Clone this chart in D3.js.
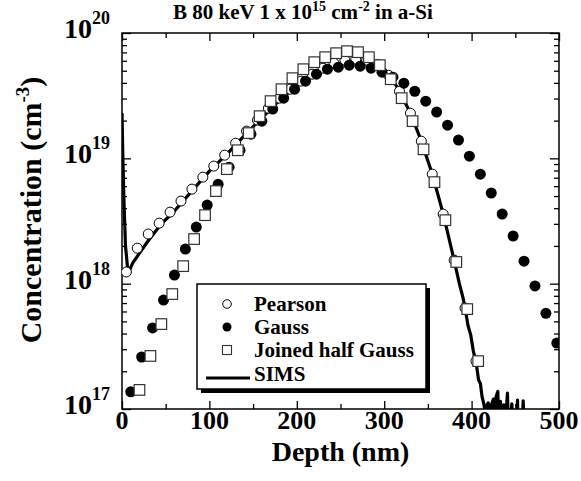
<!DOCTYPE html>
<html>
<head>
<meta charset="utf-8">
<script src="https://cdn.jsdelivr.net/npm/d3@7"></script>
<style>
  html, body { margin: 0; padding: 0; background: #fff; }
  svg text { font-family: "Liberation Serif", "Times New Roman", Times, serif; font-weight: bold; fill: #000; }
</style>
</head>
<body>
<svg id="chart" width="581" height="481"></svg>
<script>
// ---- data ----
const xTicks = [0, 100, 200, 300, 400, 500];
const xMinorTicks = [50, 150, 250, 350, 450];
const yExponents = [17, 18, 19, 20];

const pearsonDepth = [5, 17.5, 30, 42.5, 55, 67.5, 80, 92.5, 105, 117.5, 130, 142.5, 155, 167.5, 180, 192.5, 205, 217.5, 230, 242.5, 255, 267.5, 280, 292.5, 305, 317.5, 330, 342.5, 355, 367.5, 380, 392.5, 405];
const pearsonConc = [1.24e18, 1.92e18, 2.49e18, 3.04e18, 3.72e18, 4.56e18, 5.68e18, 7.08e18, 8.67e18, 1.06e19, 1.32e19, 1.65e19, 2.02e19, 2.51e19, 3.02e19, 3.56e19, 4.13e19, 4.69e19, 5.24e19, 5.74e19, 6.07e19, 6.18e19, 6.07e19, 5.6e19, 4.6e19, 3.43e19, 2.29e19, 1.37e19, 7.48e18, 3.59e18, 1.54e18, 6.39e17, 2.41e17];

const gaussDepth = [10, 22.5, 35, 47.5, 60, 72.5, 85, 97.5, 110, 122.5, 135, 147.5, 160, 172.5, 185, 197.5, 210, 222.5, 235, 247.5, 260, 272.5, 285, 297.5, 310, 322.5, 335, 347.5, 360, 372.5, 385, 397.5, 410, 422.5, 435, 447.5, 460, 472.5, 485, 497.5];
const gaussConc = [1.37e17, 2.6e17, 4.43e17, 7.4e17, 1.17e18, 1.89e18, 2.83e18, 4.24e18, 6.2e18, 8.5e18, 1.16e19, 1.56e19, 1.98e19, 2.47e19, 3.02e19, 3.56e19, 4.13e19, 4.69e19, 5.14e19, 5.34e19, 5.54e19, 5.44e19, 5.24e19, 4.87e19, 4.44e19, 3.98e19, 3.43e19, 2.86e19, 2.34e19, 1.84e19, 1.40e19, 1.04e19, 7.48e18, 5.28e18, 3.59e18, 2.40e18, 1.51e18, 9.6e17, 5.8e17, 3.36e17];

const halfGaussDepth = [20, 32.5, 45, 57.5, 70, 82.5, 95, 107.5, 120, 132.5, 145, 157.5, 170, 182.5, 195, 207.5, 220, 232.5, 245, 257.5, 270, 282.5, 295, 307.5, 320, 332.5, 345, 357.5, 370, 382.5, 395, 407.5];
const halfGaussConc = [1.42e17, 2.65e17, 4.76e17, 8.26e17, 1.38e18, 2.27e18, 3.52e18, 5.48e18, 8.2e18, 1.16e19, 1.59e19, 2.17e19, 2.86e19, 3.56e19, 4.36e19, 5.14e19, 5.85e19, 6.41e19, 6.90e19, 7.16e19, 7.03e19, 6.41e19, 5.54e19, 4.28e19, 3.02e19, 1.98e19, 1.18e19, 6.46e18, 3.21e18, 1.49e18, 6.27e17, 2.41e17];

const simsDepth = [0, 1, 2.5, 4, 7, 12, 20, 30, 45, 60, 80, 100, 120, 140, 160, 180, 200, 220, 240, 255, 270, 285, 300, 310, 317.5, 330, 342.5, 355, 367.5, 380, 386, 390, 392.5, 396, 399, 402, 405, 408, 410, 412, 414, 416, 417, 419, 421, 423, 425, 426, 428, 430, 431, 433, 435, 437, 439, 441, 442, 445, 446, 447, 452, 452.5, 453, 458, 459, 460];
const simsConc = [2.3e19, 1.0e19, 4.0e18, 2.0e18, 1.2e18, 1.45e18, 1.75e18, 2.2e18, 3.0e18, 3.8e18, 5.5e18, 7.9e18, 1.08e19, 1.52e19, 2.1e19, 2.9e19, 3.8e19, 4.7e19, 5.45e19, 5.85e19, 6.0e19, 5.75e19, 5.0e19, 4.2e19, 3.43e19, 2.29e19, 1.37e19, 7.5e18, 3.6e18, 1.54e18, 1.0e18, 7.8e17, 6.4e17, 4.6e17, 3.9e17, 2.9e17, 2.4e17, 1.7e17, 1.6e17, 1.25e17, 1.1e17, 9e16, 1.05e17, 1.12e17, 8e16, 1.1e17, 1.2e17, 8e16, 1.25e17, 1.38e17, 8e16, 1.15e17, 8e16, 1.08e17, 8e16, 1.34e17, 8e16, 8e16, 1.1e17, 8e16, 8e16, 1.18e17, 8e16, 8e16, 1.16e17, 8e16];

const legendLabels = ["Pearson", "Gauss", "Joined half Gauss", "SIMS"];

// ---- layout ----
const svg = d3.select("#chart");
const L = 122, R = 559, T = 33, B = 409;
const x = d3.scaleLinear().domain([0, 500]).range([L, R]);
const y = d3.scaleLog().domain([1e17, 1e20]).range([B, T]);

const zip = (a, b) => a.map((d, i) => [d, b[i]]);

svg.append("defs").append("clipPath").attr("id", "plotclip")
  .append("rect").attr("x", L).attr("y", T).attr("width", R - L).attr("height", B - T);

// ---- axes (ticks inward) ----
const yMinor = [];
yExponents.slice(0, -1).forEach(e => { for (let m = 2; m <= 9; m++) yMinor.push(m * Math.pow(10, e)); });
const yMajor = yExponents.map(e => Math.pow(10, e));

function styleAxis(g) {
  g.select(".domain").remove();
  g.selectAll(".tick line").attr("stroke", "#000").attr("stroke-width", 1.3);
  g.selectAll(".tick text").remove();
}
svg.append("g").attr("transform", `translate(0,${B})`).call(d3.axisBottom(x).tickValues(xTicks).tickSize(-8)).call(styleAxis);
svg.append("g").attr("transform", `translate(0,${B})`).call(d3.axisBottom(x).tickValues(xMinorTicks).tickSize(-5)).call(styleAxis);
svg.append("g").attr("transform", `translate(0,${T})`).call(d3.axisTop(x).tickValues(xTicks).tickSize(-8)).call(styleAxis);
svg.append("g").attr("transform", `translate(0,${T})`).call(d3.axisTop(x).tickValues(xMinorTicks).tickSize(-5)).call(styleAxis);
svg.append("g").attr("transform", `translate(${L},0)`).call(d3.axisLeft(y).tickValues(yMajor).tickSize(-9)).call(styleAxis);
svg.append("g").attr("transform", `translate(${L},0)`).call(d3.axisLeft(y).tickValues(yMinor).tickSize(-5)).call(styleAxis);
svg.append("g").attr("transform", `translate(${R},0)`).call(d3.axisRight(y).tickValues(yMajor).tickSize(-9)).call(styleAxis);
svg.append("g").attr("transform", `translate(${R},0)`).call(d3.axisRight(y).tickValues(yMinor).tickSize(-5)).call(styleAxis);

svg.append("rect").attr("x", L).attr("y", T).attr("width", R - L).attr("height", B - T)
  .attr("fill", "none").attr("stroke", "#000").attr("stroke-width", 1.5);

// x tick labels
svg.append("g").selectAll("text").data(xTicks).join("text")
  .attr("x", d => x(d)).attr("y", 429).attr("text-anchor", "middle")
  .attr("font-size", 26).text(d => d);

// y tick labels 10^n
const yl = svg.append("g").selectAll("text").data(yExponents).join("text")
  .attr("x", 110).attr("y", d => y(Math.pow(10, d)) + 5).attr("text-anchor", "end")
  .attr("font-size", 28);
yl.append("tspan").text("10");
yl.append("tspan").attr("font-size", 18).attr("dy", -14).text(d => d);

// axis titles
svg.append("text").attr("x", (L + R) / 2).attr("y", 461).attr("text-anchor", "middle")
  .attr("font-size", 28).text("Depth (nm)");
const yt = svg.append("text").attr("transform", "translate(41,210) rotate(-90)")
  .attr("text-anchor", "middle").attr("font-size", 30);
yt.append("tspan").text("Concentration (cm");
yt.append("tspan").attr("font-size", 19).attr("dy", -12).text("-3");
yt.append("tspan").attr("dy", 12).text(")");

// title
const tt = svg.append("text").attr("x", 173).attr("y", 19).attr("font-size", 21);
tt.append("tspan").text("B 80 keV 1 x 10");
tt.append("tspan").attr("font-size", 14).attr("dy", -8).text("15");
tt.append("tspan").attr("dy", 8).text(" cm");
tt.append("tspan").attr("font-size", 14).attr("dy", -8).text("-2");
tt.append("tspan").attr("dy", 8).text(" in a-Si");

// ---- data marks ----
const plot = svg.append("g").attr("clip-path", "url(#plotclip)");
plot.append("path").datum(zip(simsDepth, simsConc))
  .attr("fill", "none").attr("stroke", "#000").attr("stroke-width", 3.2).attr("stroke-linejoin", "round")
  .attr("d", d3.line().x(d => x(d[0])).y(d => y(Math.max(d[1], 5e16))));

plot.append("g").selectAll("circle").data(zip(pearsonDepth, pearsonConc)).join("circle")
  .attr("cx", d => x(d[0])).attr("cy", d => y(d[1])).attr("r", 5)
  .attr("fill", "#fff").attr("stroke", "#000").attr("stroke-width", 1);

plot.append("g").selectAll("circle").data(zip(gaussDepth, gaussConc)).join("circle")
  .attr("cx", d => x(d[0])).attr("cy", d => y(d[1])).attr("r", 5.5)
  .attr("fill", "#000");

plot.append("g").selectAll("rect").data(zip(halfGaussDepth, halfGaussConc)).join("rect")
  .attr("x", d => x(d[0]) - 5.3).attr("y", d => y(d[1]) - 5.3).attr("width", 10.6).attr("height", 10.6)
  .attr("fill", "#fff").attr("stroke", "#333").attr("stroke-width", 1.2);

// ---- legend ----
const lg = svg.append("g");
lg.append("rect").attr("x", 201).attr("y", 288).attr("width", 229).attr("height", 105).attr("fill", "#000");
lg.append("rect").attr("x", 197).attr("y", 284).attr("width", 229).attr("height", 105)
  .attr("fill", "#fff").attr("stroke", "#000").attr("stroke-width", 1.5);
const ly = [311, 334, 357, 381];
lg.append("circle").attr("cx", 227).attr("cy", ly[0] - 7).attr("r", 4.3).attr("fill", "#fff").attr("stroke", "#000");
lg.append("circle").attr("cx", 227).attr("cy", ly[1] - 7).attr("r", 4.5).attr("fill", "#000");
lg.append("rect").attr("x", 222.5).attr("y", ly[2] - 11.5).attr("width", 9).attr("height", 9)
  .attr("fill", "#fff").attr("stroke", "#333").attr("stroke-width", 1.1);
lg.append("line").attr("x1", 206).attr("x2", 250).attr("y1", ly[3] - 3).attr("y2", ly[3] - 3)
  .attr("stroke", "#000").attr("stroke-width", 3);
lg.selectAll("text").data(legendLabels).join("text")
  .attr("x", 254).attr("y", (d, i) => ly[i]).attr("font-size", 21).text(d => d);
</script>
</body>
</html>
